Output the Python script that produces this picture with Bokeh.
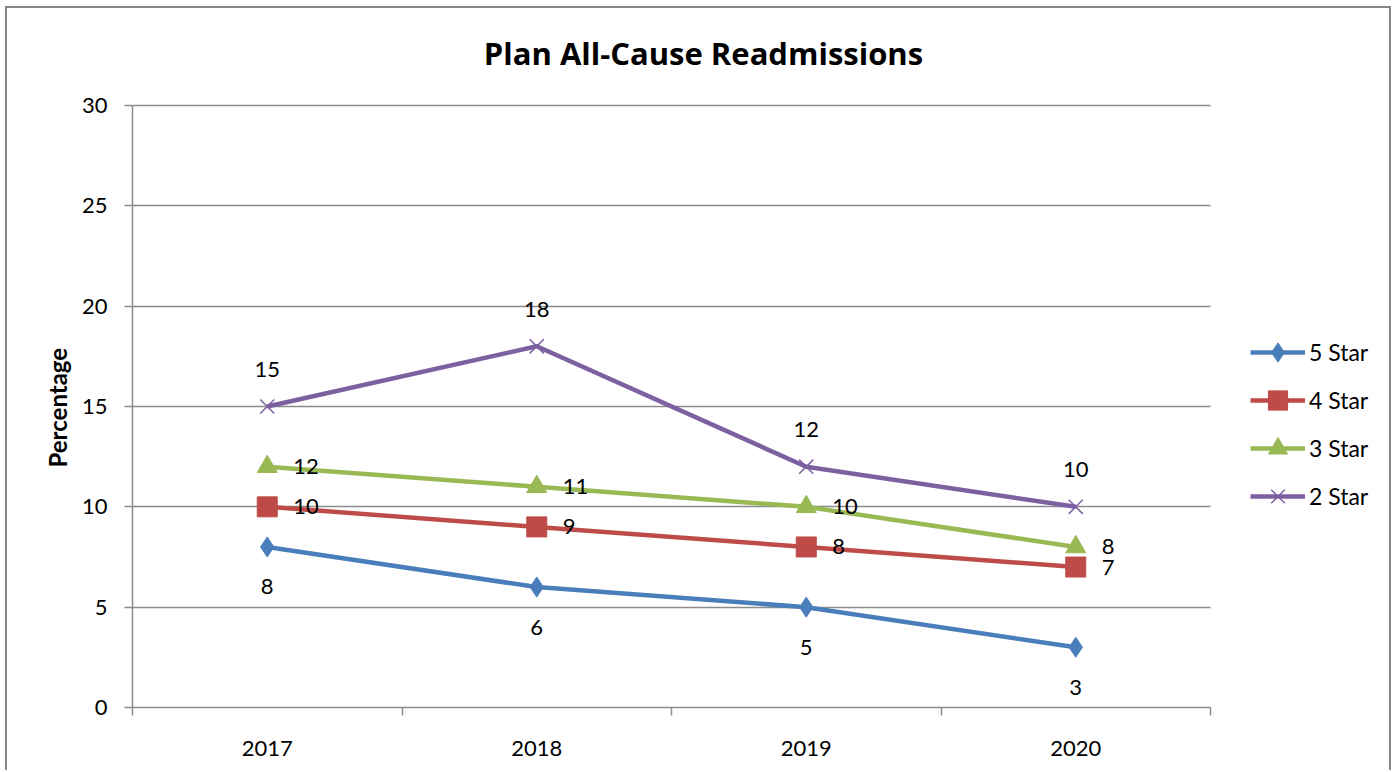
from bokeh.plotting import figure
from bokeh.models import (ColumnDataSource, LabelSet, Label, Legend, LegendItem,
                          FixedTicker, Range1d, Title)
from bokeh.core.properties import value
from bokeh.embed import file_html
from bokeh.resources import INLINE

title_text = "Plan All-Cause Readmissions"
y_label = "Percentage"
years = ["2017", "2018", "2019", "2020"]
series_names = ["5 Star", "4 Star", "3 Star", "2 Star"]
star5 = [8, 6, 5, 3]
star4 = [10, 9, 8, 7]
star3 = [12, 11, 10, 8]
star2 = [15, 18, 12, 10]
y_ticks = [0, 5, 10, 15, 20, 25, 30]

FONT = "Lato"
GRAY = "#8C8C8C"
colors = ["#4A7EBB", "#BE4B48", "#98B954", "#7D60A0"]
markers = ["diamond", "square", "triangle", "x"]
label_pos = ["below", "right", "right", "above"]
values = [star5, star4, star3, star2]

xs = list(range(1, len(years) + 1))
n = len(years)
y_lo, y_hi = y_ticks[0], y_ticks[-1]

# layout (pixels, relative to the canvas)
W, H = 1386, 764
LEFT, BOTTOM = 125, 65
PLOT_W, PLOT_H = 1078, 602         # size of the actual chart area
PLOT_TOP = 97                      # chart area top below the canvas top
FRAME_W = W - LEFT                 # frame also covers the legend area
FRAME_H = H - BOTTOM               # frame also covers the title area
TITLE_CX, TITLE_CY = 571, 44       # title centre, px from the chart area's left / canvas top
YLABEL_START = 240                 # y-axis title starts this far above the chart bottom

x_lo, x_hi = 0.5, n + 0.5
x_end = x_lo + n * FRAME_W / PLOT_W
y_end = y_lo + (y_hi - y_lo) * FRAME_H / PLOT_H

p = figure(width=W, height=H, output_backend="svg", toolbar_location=None,
           x_range=Range1d(x_lo, x_end), y_range=Range1d(y_lo, y_end),
           min_border_left=LEFT, min_border_right=0, min_border_top=0,
           min_border_bottom=BOTTOM, title=None)
p.styles = {"border-left": "2px solid #878787", "border-top": "2px solid #878787",
            "border-right": "2px solid #878787", "margin-left": "5px",
            "margin-top": "6px"}
p.outline_line_color = None
p.background_fill_color = "white"
p.border_fill_color = "white"

# title (drawn inside the extended frame)
px_x = (x_hi - x_lo) / PLOT_W
px_y = (y_hi - y_lo) / PLOT_H
p.add_layout(Label(x=x_lo + TITLE_CX * px_x, y=y_hi + (PLOT_TOP - TITLE_CY) * px_y,
                   text=title_text, text_font="Open Sans", text_font_size="31px",
                   text_font_style="bold", text_color="black",
                   text_align="center", text_baseline="middle"))

# grid
p.xgrid.grid_line_color = None
p.ygrid.grid_line_color = GRAY
p.ygrid.grid_line_width = 1.5
p.ygrid.ticker = FixedTicker(ticks=y_ticks)
p.ygrid.cross_bounds = (x_lo, x_hi)

# y axis
p.yaxis.bounds = (y_lo, y_hi)
p.yaxis.ticker = FixedTicker(ticks=y_ticks)
p.yaxis.axis_line_color = GRAY
p.yaxis.axis_line_width = 1.5
p.yaxis.major_tick_line_color = GRAY
p.yaxis.major_tick_line_width = 1.5
p.yaxis.major_tick_out = 8
p.yaxis.major_tick_in = 0
p.yaxis.minor_tick_line_color = None
p.yaxis.major_label_text_font = FONT
p.yaxis.major_label_text_font_size = "22px"
p.yaxis.major_label_text_color = "black"
p.yaxis.major_label_standoff = 17

# y-axis title as a side title, positioned along the chart area
ytitle = Title(text=y_label, align="left", offset=YLABEL_START, standoff=14,
               text_font=FONT, text_font_size="24px", text_font_style="bold",
               text_color="black")
p.add_layout(ytitle, "left")

# x axis
p.xaxis.bounds = (x_lo, x_hi)
p.xaxis.ticker = FixedTicker(ticks=xs, minor_ticks=[i + 0.5 for i in range(n + 1)])
p.xaxis.major_label_overrides = {i: y for i, y in zip(xs, years)}
p.xaxis.axis_line_color = GRAY
p.xaxis.axis_line_width = 1.5
p.xaxis.major_tick_line_color = None
p.xaxis.major_tick_out = 0
p.xaxis.major_tick_in = 0
p.xaxis.minor_tick_line_color = GRAY
p.xaxis.minor_tick_line_width = 1.5
p.xaxis.minor_tick_out = 8
p.xaxis.minor_tick_in = 0
p.xaxis.major_label_text_font = FONT
p.xaxis.major_label_text_font_size = "22px"
p.xaxis.major_label_text_color = "black"
p.xaxis.major_label_standoff = 25

items = []
for name, vals, col, mk, pos in zip(series_names, values, colors, markers, label_pos):
    src = ColumnDataSource(dict(x=xs, y=vals, lab=[str(v) for v in vals]))
    r1 = p.line("x", "y", source=src, line_color=col, line_width=4.5)
    if mk == "x":
        r2 = p.scatter("x", "y", source=src, marker=mk, size=20, line_color=col,
                       line_width=1.5)
    else:
        r2 = p.scatter("x", "y", source=src, marker=mk, size=20, fill_color=col,
                       line_color=col)
    items.append(LegendItem(label=name, renderers=[r1, r2]))
    if pos == "below":
        ls = LabelSet(x="x", y="y", text="lab", source=src, y_offset=-40,
                      text_align="center", text_baseline="middle")
    elif pos == "above":
        ls = LabelSet(x="x", y="y", text="lab", source=src, y_offset=37,
                      text_align="center", text_baseline="middle")
    else:
        ls = LabelSet(x="x", y="y", text="lab", source=src, x_offset=26,
                      text_align="left", text_baseline="middle")
    ls.text_font = value(FONT)
    ls.text_font_size = value("22px")
    ls.text_color = "black"
    p.add_layout(ls)

legend = Legend(items=items, location=(PLOT_W + 40, 187), orientation="vertical",
                glyph_width=55, glyph_height=48, spacing=0, padding=0, margin=0,
                label_standoff=4, label_text_font=FONT, label_text_font_size="23px",
                label_text_color="black", border_line_color=None,
                background_fill_alpha=0)
p.add_layout(legend)

open("out.html", "w").write(file_html(p, INLINE))
